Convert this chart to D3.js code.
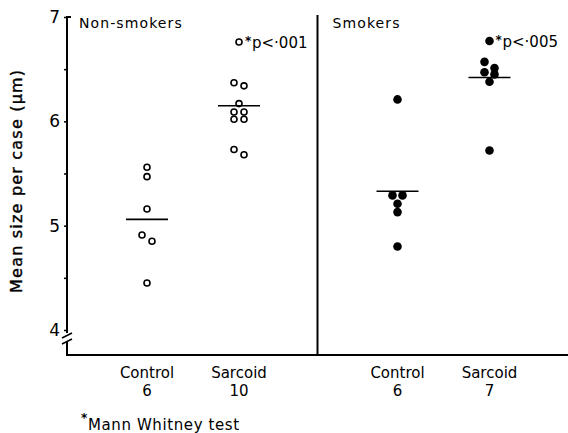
<!DOCTYPE html>
<html>
<head>
<meta charset="utf-8">
<script src="https://cdn.jsdelivr.net/npm/d3@7"></script>
<style>
  body { margin: 0; background: #fff; }
  text { font-family: "DejaVu Sans", sans-serif; fill: #000; }
</style>
</head>
<body>
<svg width="568" height="433"></svg>
<script>
const svg = d3.select('svg');

// data
const panels = ['Non-smokers', 'Smokers'];
const groups = ['Control', 'Sarcoid'];
const nsControl = [5.56, 5.47, 5.16, 4.91, 4.85, 4.45];
const nsSarcoid = [6.76, 6.37, 6.34, 6.17, 6.09, 6.09, 6.02, 6.02, 5.73, 5.68];
const smControl = [6.21, 5.29, 5.29, 5.21, 5.13, 4.80];
const smSarcoid = [6.77, 6.57, 6.51, 6.47, 6.45, 6.38, 5.72];
const medians = [5.06, 6.15, 5.33, 6.42];
const counts = [6, 10, 6, 7];
const pLabels = ['p<\u00b7001', 'p<\u00b7005'];
const yTicks = [4, 4.5, 5, 5.5, 6, 6.5, 7];

const LEFT = 67;
const BASE = 355;

const y = d3.scaleLinear().domain([4, 7]).range([330, 17]);
const xPanel = d3.scaleBand().domain(panels).range([LEFT, 568]);
const xGroup = d3.scalePoint().domain(groups).range([80, 172]);

const series = [
  {panel: 'Non-smokers', group: 'Control', values: nsControl, filled: false},
  {panel: 'Non-smokers', group: 'Sarcoid', values: nsSarcoid, filled: false},
  {panel: 'Smokers', group: 'Control', values: smControl, filled: true},
  {panel: 'Smokers', group: 'Sarcoid', values: smSarcoid, filled: true}
];

// side-by-side placement for points that would overlap
function dodge(values) {
  const pts = values.map(v => ({v, py: y(v), dx: 0})).sort((a, b) => a.py - b.py);
  let run = [pts[0]];
  const runs = [run];
  for (let i = 1; i < pts.length; i++) {
    if (pts[i].py - pts[i - 1].py < 7) run.push(pts[i]);
    else { run = [pts[i]]; runs.push(run); }
  }
  runs.forEach(r => {
    if (r.length > 1) r.forEach((p, i) => p.dx = i % 2 ? 5 : -5);
  });
  return pts;
}

// y axis ticks
const yAxis = d3.axisLeft(y)
  .tickValues(yTicks)
  .tickSize(3)
  .tickPadding(4)
  .tickFormat(d => Number.isInteger(d) ? d : '');
const yAxisG = svg.append('g').attr('transform', `translate(${LEFT},0)`).call(yAxis);
yAxisG.select('.domain').remove();
yAxisG.selectAll('line').attr('stroke', '#000').attr('stroke-width', 1.5);
yAxisG.selectAll('text').style('font-size', '17px').attr('font-family', null);

// axis line with break
svg.append('path')
  .attr('d', `M${LEFT + 4},${y(7)} H${LEFT} V333 M${LEFT},341 V${BASE} H568`)
  .attr('fill', 'none').attr('stroke', '#000').attr('stroke-width', 2);
svg.append('path')
  .attr('d', `M${LEFT - 5},338 L${LEFT + 5},333 M${LEFT - 5},344 L${LEFT + 5},339`)
  .attr('fill', 'none').attr('stroke', '#000').attr('stroke-width', 1.6);

// divider between panels
svg.append('line')
  .attr('x1', xPanel('Smokers')).attr('x2', xPanel('Smokers'))
  .attr('y1', 15).attr('y2', BASE)
  .attr('stroke', '#000').attr('stroke-width', 2);

// panel titles
svg.selectAll('.ptitle').data(panels).join('text')
  .attr('x', d => xPanel(d) + (d === 'Smokers' ? 15 : 12))
  .attr('y', 28)
  .style('font-size', '14px')
  .style('letter-spacing', '1.1px')
  .text(d => d);

// points
series.forEach((s, i) => {
  const cx = xPanel(s.panel) + xGroup(s.group);
  svg.append('g').selectAll('circle').data(dodge(s.values)).join('circle')
    .attr('cx', d => cx + d.dx)
    .attr('cy', d => d.py)
    .attr('r', s.filled ? 4.3 : 3)
    .attr('fill', s.filled ? '#000' : '#fff')
    .attr('stroke', '#000')
    .attr('stroke-width', s.filled ? 0 : 1.6);

  svg.append('line')
    .attr('x1', cx - 21).attr('x2', cx + 21)
    .attr('y1', y(medians[i])).attr('y2', y(medians[i]))
    .attr('stroke', '#000').attr('stroke-width', 1.6);

  svg.append('text')
    .attr('x', cx).attr('y', 378)
    .attr('text-anchor', 'middle')
    .style('font-size', '15px')
    .text(s.group);
  svg.append('text')
    .attr('x', cx).attr('y', 396)
    .attr('text-anchor', 'middle')
    .style('font-size', '15px')
    .text(counts[i]);
});

// significance labels next to the top sarcoid point
panels.forEach((p, i) => {
  const vals = i === 0 ? nsSarcoid : smSarcoid;
  const tx = xPanel(p) + xGroup('Sarcoid') + 13;
  const ty = y(d3.max(vals));
  svg.append('text').attr('x', tx - 7).attr('y', ty + 3).style('font-size', '12px').style('font-weight', 'bold').text('*');
  svg.append('text').attr('x', tx).attr('y', ty + 6).style('font-size', '15px').text(pLabels[i]);
});

// y axis title
svg.append('text')
  .attr('transform', `translate(22,${y(5.43)}) rotate(-90)`)
  .attr('text-anchor', 'middle')
  .style('font-size', '16px')
  .style('letter-spacing', '1.2px')
  .style('stroke', '#000')
  .style('stroke-width', 0.4)
  .text('Mean size per case (\u03bcm)');

// footnote
svg.append('text').attr('x', 81).attr('y', 422).style('font-size', '12px').style('font-weight', 'bold').text('*');
svg.append('text').attr('x', 88).attr('y', 430).style('font-size', '15px').style('letter-spacing', '0.6px').text('Mann Whitney test');
</script>
</body>
</html>
